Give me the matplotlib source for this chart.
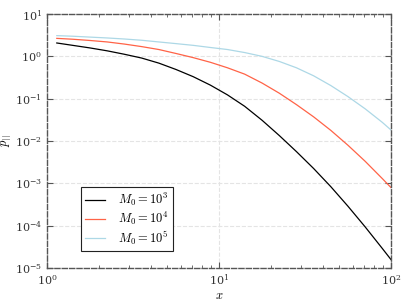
import matplotlib
matplotlib.use("Agg")
import matplotlib.pyplot as plt
from matplotlib.ticker import NullLocator, NullFormatter

plt.rcParams['mathtext.fontset'] = 'cm'
plt.rcParams['font.family'] = ['DejaVu Serif']

x = [1.14, 1.41, 1.78, 2.24, 2.82, 3.55, 4.47, 5.62, 7.08, 8.91, 11.2,
     14.1, 17.8, 22.4, 28.2, 35.5, 44.7, 56.2, 70.8, 89.1, 100.0]

p_m3 = [2.07, 1.82, 1.58, 1.35, 1.12, 0.912, 0.692, 0.490, 0.331, 0.209, 0.123,
        0.0661, 0.0309, 0.0135, 0.00562, 0.00224, 8.32e-4, 2.88e-4, 9.33e-5, 2.88e-5, 1.58e-5]
p_m4 = [2.66, 2.54, 2.37, 2.19, 1.95, 1.70, 1.45, 1.17, 0.933, 0.724, 0.537,
        0.380, 0.234, 0.135, 0.0724, 0.0372, 0.0178, 0.00794, 0.00331, 0.00129, 7.94e-4]
p_m5 = [3.09, 2.99, 2.85, 2.72, 2.57, 2.40, 2.19, 2.00, 1.82, 1.62, 1.45,
        1.23, 1.00, 0.759, 0.537, 0.347, 0.204, 0.112, 0.0575, 0.0275, 0.0182]

labels = [r'$M_0 = 10^3$', r'$M_0 = 10^4$', r'$M_0 = 10^5$']
colors = ['black', 'tomato', 'lightblue']

fig = plt.figure(figsize=(4.07, 3.05), dpi=100)
ax = fig.add_axes([0.1155, 0.1213, 0.8452, 0.8327])

for y, lab, c in zip([p_m3, p_m4, p_m5], labels, colors):
    ax.plot(x, y, color=c, lw=0.9, label=lab)

ax.set_xscale('log')
ax.set_yscale('log')
ax.set_xlim(1, 100)
ax.set_ylim(1e-5, 10)
ax.yaxis.set_minor_locator(NullLocator())
ax.xaxis.set_minor_formatter(NullFormatter())

ax.grid(True, which='major', ls='--', color='#e4e4e4', lw=0.8)
ax.set_axisbelow(True)
for s in ax.spines.values():
    s.set_linestyle('--')
    s.set_color('#555555')
    s.set_linewidth(1.0)

ax.tick_params(which='both', direction='in', top=True, right=True,
               labelsize=8, colors='#555555', labelcolor='#333333')
ax.tick_params(which='major', length=4)
ax.tick_params(which='minor', length=2)

ax.set_xlabel(r'$x$', fontsize=9)
ax.set_ylabel(r'$p_{||}$', fontsize=9)
ax.xaxis.set_label_coords(0.5, -0.083)
ax.yaxis.set_label_coords(-0.096, 0.5)

leg = ax.legend(loc='lower left', bbox_to_anchor=(0.099, 0.067), borderaxespad=0,
                fontsize=9, fancybox=False, framealpha=1, edgecolor='#222222',
                handlelength=1.6, handletextpad=1.0, borderpad=0.35,
                labelspacing=0.12)
leg.get_frame().set_linewidth(0.8)

fig.savefig('out.png', dpi=100)
